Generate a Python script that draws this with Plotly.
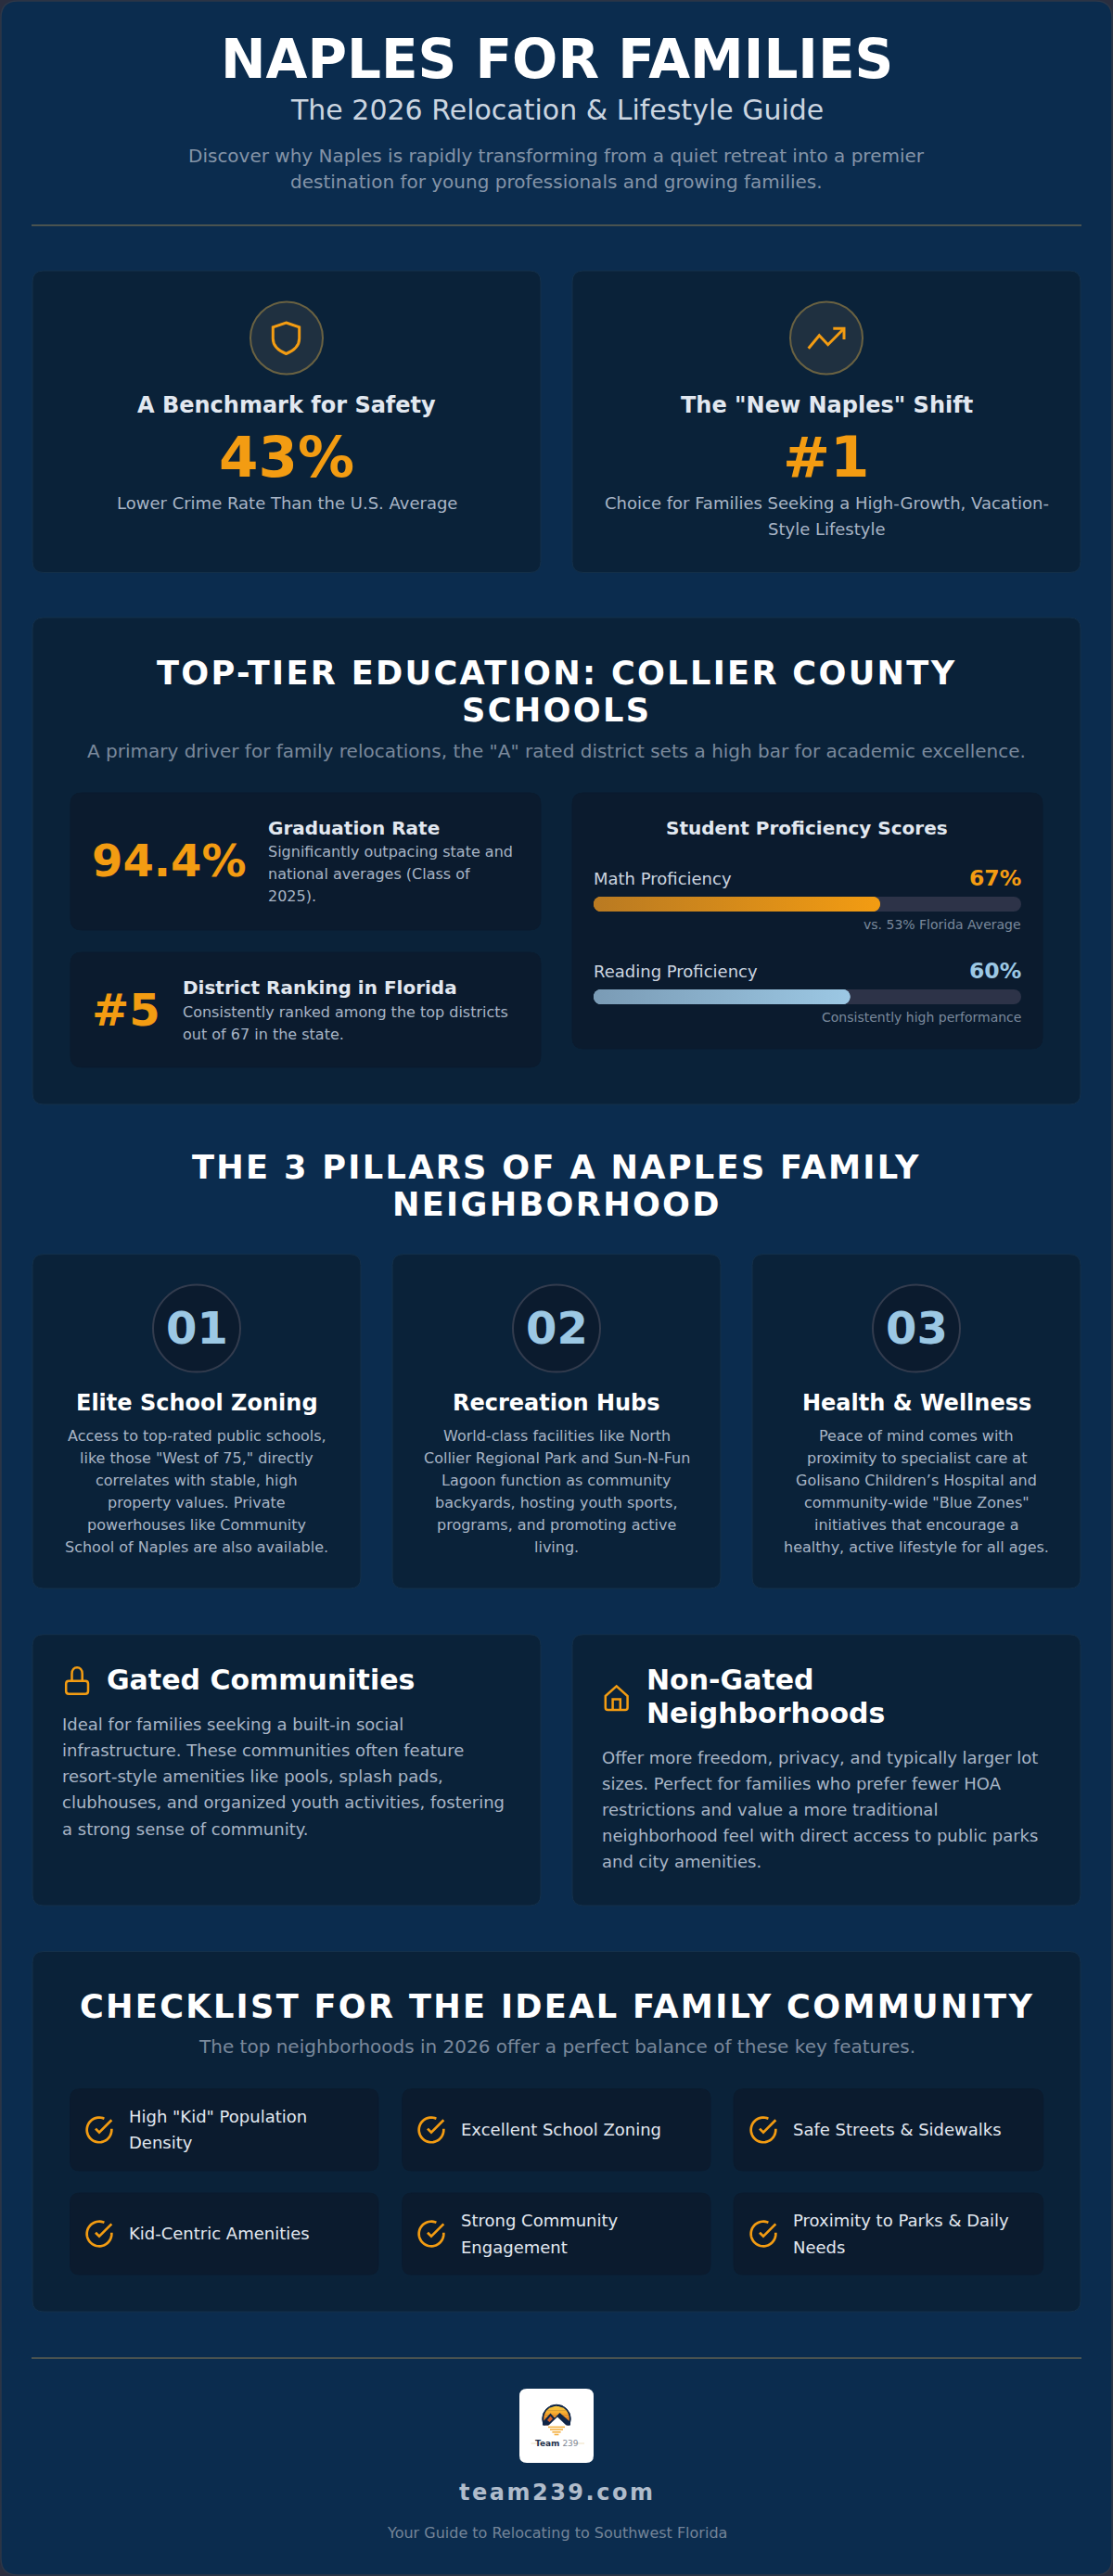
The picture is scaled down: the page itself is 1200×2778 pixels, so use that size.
import math
import plotly.graph_objects as go

# ---------- content ----------
title = "NAPLES FOR FAMILIES"
subtitle = "The 2026 Relocation & Lifestyle Guide"
intro_lines = ["Discover why Naples is rapidly transforming from a quiet retreat into a premier",
               "destination for young professionals and growing families."]
hero_titles = ["A Benchmark for Safety", 'The "New Naples" Shift']
hero_values = ["43%", "#1"]
hero_notes = [["Lower Crime Rate Than the U.S. Average"],
              ["Choice for Families Seeking a High-Growth, Vacation-", "Style Lifestyle"]]
edu_title = ["TOP-TIER EDUCATION: COLLIER COUNTY", "SCHOOLS"]
edu_sub = 'A primary driver for family relocations, the "A" rated district sets a high bar for academic excellence.'
edu_values = ["94.4%", "#5"]
edu_heads = ["Graduation Rate", "District Ranking in Florida"]
edu_notes = [["Significantly outpacing state and", "national averages (Class of", "2025)."],
             ["Consistently ranked among the top districts", "out of 67 in the state."]]
prof_title = "Student Proficiency Scores"
prof_labels = ["Math Proficiency", "Reading Proficiency"]
prof_values = [67, 60]
prof_notes = ["vs. 53% Florida Average", "Consistently high performance"]
pillars_title = ["THE 3 PILLARS OF A NAPLES FAMILY", "NEIGHBORHOOD"]
pillar_numbers = ["01", "02", "03"]
pillar_heads = ["Elite School Zoning", "Recreation Hubs", "Health & Wellness"]
pillar_notes = [
    ["Access to top-rated public schools,", 'like those "West of 75," directly', "correlates with stable, high",
     "property values. Private", "powerhouses like Community", "School of Naples are also available."],
    ["World-class facilities like North", "Collier Regional Park and Sun-N-Fun", "Lagoon function as community",
     "backyards, hosting youth sports,", "programs, and promoting active", "living."],
    ["Peace of mind comes with", "proximity to specialist care at", "Golisano Children’s Hospital and",
     'community-wide "Blue Zones"', "initiatives that encourage a", "healthy, active lifestyle for all ages."],
]
gated_head = ["Gated Communities"]
gated_note = ["Ideal for families seeking a built-in social", "infrastructure. These communities often feature",
              "resort-style amenities like pools, splash pads,", "clubhouses, and organized youth activities, fostering",
              "a strong sense of community."]
nongated_head = ["Non-Gated", "Neighborhoods"]
nongated_note = ["Offer more freedom, privacy, and typically larger lot", "sizes. Perfect for families who prefer fewer HOA",
                 "restrictions and value a more traditional", "neighborhood feel with direct access to public parks",
                 "and city amenities."]
check_title = "CHECKLIST FOR THE IDEAL FAMILY COMMUNITY"
check_sub = "The top neighborhoods in 2026 offer a perfect balance of these key features."
check_items = [['High "Kid" Population', "Density"], ["Excellent School Zoning"], ["Safe Streets & Sidewalks"],
               ["Kid-Centric Amenities"], ["Strong Community", "Engagement"], ["Proximity to Parks & Daily", "Needs"]]
site = "team239.com"
footer = "Your Guide to Relocating to Southwest Florida"

# ---------- palette ----------
PAGE = "#2a2e3f"
PANEL = "#0b2c4e"
CARD = "#0a2239"
INNER = "#0b1b2e"
EDGE = "#14304a"
ORANGE = "#f39c12"
BLUE = "#9cc8e4"
WHITE = "#ffffff"
T1 = "#e2e8f0"
T2 = "#cbd5e0"
T3 = "#a8b5c6"
T4 = "#7a899c"
FONT = "DejaVu Sans"

shapes = []
annotations = []


def rr(x0, y0, x1, y1, r):
    return (f"M{x0+r} {y0} L{x1-r} {y0} Q{x1} {y0} {x1} {y0+r} L{x1} {y1-r} Q{x1} {y1} {x1-r} {y1} "
            f"L{x0+r} {y1} Q{x0} {y1} {x0} {y1-r} L{x0} {y0+r} Q{x0} {y0} {x0+r} {y0} Z")


def box(x0, y0, x1, y1, r=12, fill=CARD, edge=EDGE, w=1):
    shapes.append(dict(type="path", path=rr(x0, y0, x1, y1, r), xref="x", yref="y", layer="below",
                       fillcolor=fill, line=dict(color=edge, width=w)))


def stroke(path, color=ORANGE, w=2.4):
    shapes.append(dict(type="path", path=path, xref="x", yref="y", layer="below",
                       fillcolor="rgba(0,0,0,0)", line=dict(color=color, width=w)))


def solid(path, color):
    shapes.append(dict(type="path", path=path, xref="x", yref="y", layer="below",
                       fillcolor=color, line=dict(width=0)))


def disc(cx, cy, r, fill, edge, w=2):
    shapes.append(dict(type="circle", x0=cx-r, x1=cx+r, y0=cy-r, y1=cy+r, xref="x", yref="y", layer="below",
                       fillcolor=fill, line=dict(color=edge, width=w)))


def rule(y):
    solid(f"M34 {y-1} L1166 {y-1} L1166 {y+1} L34 {y+1} Z", "#4a5350")


def txt(x, y, s, size, color, bold=False, anchor="center", spacing=0):
    if spacing:
        s = f'<span style="letter-spacing:{spacing}px">{s}</span>'
    annotations.append(dict(x=x, y=y, xref="x", yref="y", text=s, showarrow=False, xanchor=anchor, yanchor="middle",
                            borderpad=0, borderwidth=0,
                            font=dict(family=FONT, size=size, color=color, weight=700 if bold else 400)))


def lines(x, ys, rows, size, color, bold=False, anchor="center", spacing=0):
    for y, s in zip(ys, rows):
        txt(x, y, s, size, color, bold, anchor, spacing)


def stack(y0, step, n):
    return [y0 + step * i for i in range(n)]


# ---------- frame ----------
box(1, 1, 1199, 2777, r=18, fill=PANEL, edge="#2d3748", w=1.5)

# ---------- header ----------
txt(600, 63.5, title, 58, WHITE, True)
txt(600, 118, subtitle, 30, T2)
lines(600, [168, 196], intro_lines, 20, "#8494a8")
rule(243)

# ---------- hero cards ----------
hero_x = [309, 891]
hero_box = [(35, 583), (617, 1165)]
for i in range(2):
    box(hero_box[i][0], 292, hero_box[i][1], 617.5)
    disc(hero_x[i], 364.5, 39, "#1f3040", "#6a6242", 2)
    txt(hero_x[i], 437, hero_titles[i], 24, T1, True)
    txt(hero_x[i], 492, hero_values[i], 61, ORANGE, True)
    lines(hero_x[i], stack(542, 28, len(hero_notes[i])), hero_notes[i], 18, T3)
stroke("M308.5 348 L322.7 352.8 L322.7 365 C322.7 373 316 378.5 308.5 381.5 C301 378.5 294.3 373 294.3 365 "
       "L294.3 352.8 Z", ORANGE, 3)
stroke("M871.7 375.7 L883.3 361.7 L892.7 371.7 L910 354.3", ORANGE, 3)
stroke("M898.3 354.3 L910 354.3 L910 366", ORANGE, 3)

# ---------- education ----------
box(35, 666, 1165, 1191)
lines(600, [725, 765], edu_title, 35.2, WHITE, True, spacing=2.3)
txt(600, 810, edu_sub, 20, "#7a899c")
box(76, 855, 583, 1003, fill=INNER, edge=INNER)
box(76, 1027, 583, 1151, fill=INNER, edge=INNER)
box(617, 855, 1124, 1131, fill=INNER, edge=INNER)
txt(98.5, 928, edu_values[0], 48, ORANGE, True, "left")
txt(289, 893, edu_heads[0], 20, T1, True, "left")
lines(289, stack(918.6, 24, 3), edu_notes[0], 16, T3, anchor="left")
txt(99, 1089, edu_values[1], 48, ORANGE, True, "left")
txt(196.6, 1065, edu_heads[1], 20, T1, True, "left")
lines(196.6, stack(1091, 24, 2), edu_notes[1], 16, T3, anchor="left")
txt(870, 893, prof_title, 20, T1, True)
prof_y = [947, 1047]
prof_col = [ORANGE, BLUE]
for i in range(2):
    txt(640, prof_y[i], prof_labels[i], 18, T2, False, "left")
    txt(1101, prof_y[i], f"{prof_values[i]}%", 23.5, prof_col[i], True, "right")
    txt(1101, prof_y[i] + 49.5, prof_notes[i], 14, T4, False, "right")

# ---------- pillars ----------
lines(600, [1258, 1298.5], pillars_title, 35.2, WHITE, True, spacing=2.3)
pillar_x = [212, 600, 988]
pillar_box = [(35, 389), (423, 777), (811, 1165)]
for i in range(3):
    box(pillar_box[i][0], 1352.6, pillar_box[i][1], 1713)
    disc(pillar_x[i], 1432.6, 47, INNER, "#333c4e", 2)
    txt(pillar_x[i], 1432, pillar_numbers[i], 48, BLUE, True)
    txt(pillar_x[i], 1513, pillar_heads[i], 24, WHITE, True)
    lines(pillar_x[i], stack(1548.4, 24.05, 6), pillar_notes[i], 16, T3)

# ---------- gated / non-gated ----------
box(35, 1762.7, 583, 2055)
box(617, 1762.7, 1165, 2055)
txt(115, 1811, gated_head[0], 30, WHITE, True, "left")
lines(67, stack(1859.6, 28.1, 5), gated_note, 18, T3, anchor="left")
lines(697, [1811, 1847.5], nongated_head, 30, WHITE, True, "left")
lines(648.8, stack(1895.5, 28.1, 5), nongated_note, 18, T3, anchor="left")
stroke(rr(71.2, 1812.7, 95, 1826.7, 3), ORANGE, 2.5)
stroke("M77.5 1812.7 L77.5 1805 C77.5 1796 88.7 1796 88.7 1805 L88.7 1812.7", ORANGE, 2.5)
stroke("M652.8 1829 L664.7 1818.4 L676.6 1829 L676.6 1841.5 Q676.6 1844 674.1 1844 L655.3 1844 Q652.8 1844 652.8 1841.5 Z",
       ORANGE, 2.5)
stroke("M660.6 1844 L660.6 1832.6 L668.8 1832.6 L668.8 1844", ORANGE, 2.5)

# ---------- checklist ----------
box(35, 2104.5, 1165, 2493)
txt(600, 2163, check_title, 35.2, WHITE, True, spacing=2.3)
txt(600, 2207.3, check_sub, 20, "#7a899c")
col_box = [(75.7, 408), (433.8, 766), (791, 1124.7)]
row_box = [(2252.8, 2341), (2365, 2453)]
icon_x = [107, 465, 823]
text_x = [139, 497, 855]


def check_icon(cx, cy):
    s = 4 / 3
    ox, oy = cx - 16, cy - 16
    pts = [(22, 11.08)]
    a0 = 0
    a1 = 360 - math.degrees(math.atan2(12 - 2.86, 16.07 - 12))
    for k in range(41):
        a = math.radians(a0 + (a1 - a0) * k / 40)
        pts.append((12 + 10 * math.cos(a), 12 + 10 * math.sin(a)))
    d = "M" + " L".join(f"{ox+s*a:.2f} {oy+s*b:.2f}" for a, b in pts)
    stroke(d, ORANGE, 2.7)
    tick = [(22, 4), (12, 14.01), (9, 11.01)]
    stroke("M" + " L".join(f"{ox+s*a:.2f} {oy+s*b:.2f}" for a, b in tick), ORANGE, 2.7)


for r in range(2):
    for c in range(3):
        box(col_box[c][0], row_box[r][0], col_box[c][1], row_box[r][1], r=10, fill=INNER, edge=INNER)
        cy = (row_box[r][0] + row_box[r][1]) / 2
        check_icon(icon_x[c], cy)
        rows = check_items[r * 3 + c]
        ys = [cy - r] if len(rows) == 1 else [cy - 14.2, cy + 14]
        lines(text_x[c], ys, rows, 18, T1, anchor="left")

# ---------- footer ----------
rule(2543)
box(560, 2576, 640, 2656, r=8, fill=WHITE, edge=WHITE, w=0)
# logo: ring, graded sky, peaks, house and water stripes
lcx, lcy, lr = 600, 2608.5, 14.4
disc(lcx, lcy, 15.3, "#0f2547", "#0f2547", 1)
sky = ["#f8c63c", "#f8bd38", "#f7b133", "#f5a52f", "#f3982b", "#f08b28", "#ec7e26", "#e87224", "#e46622"]
for k, col in enumerate(sky):
    ya = lcy - lr + k * 2.6
    yb = ya + 2.8
    wa = math.sqrt(max(lr**2 - (ya - lcy)**2, 0)) - 0.6
    wb = math.sqrt(max(lr**2 - (yb - lcy)**2, 0)) - 0.6
    solid(f"M{lcx-wa:.2f} {ya:.2f} L{lcx+wa:.2f} {ya:.2f} L{lcx+wb:.2f} {yb:.2f} L{lcx-wb:.2f} {yb:.2f} Z", col)
solid("M583 2615.5 L617 2615.5 L617 2630 L583 2630 Z", WHITE)
solid("M585 2612 L593.5 2602.5 L598 2607.5 L603.5 2602 L615 2612 L615 2615.5 L585 2615.5 Z", "#0f2547")
solid("M591 2616 L601 2606.5 L611 2616 Z", WHITE)
solid("M590 2610 L593.5 2605.5 L596 2608.5 L592.5 2612 Z", "#d9622b")
for k, hw in enumerate([9, 7, 4.6, 2.4]):
    y = 2616.6 + k * 2.7
    solid(f"M{600-hw} {y} L{600+hw} {y} L{600+hw} {y+1.6} L{600-hw} {y+1.6} Z", "#f4b040")
solid("M572.5 2634.6 L581.5 2634.6 L581.5 2635.4 L572.5 2635.4 Z", "#e9d6ae")
solid("M619 2634.6 L630 2634.6 L630 2635.4 L619 2635.4 Z", "#e9d6ae")
txt(600, 2635, '<b>Team</b> <span style="color:#7d8796">239</span>', 9, "#1e2f4a")
txt(600, 2687.7, site, 24, "#b0bccb", True, spacing=2.5)
txt(600, 2731, footer, 16, "#748498")

# ---------- figure ----------
fig = go.Figure()

# the proficiency bars, on their own 0-100 axes
bar_rows = [0, 1]
fig.add_trace(go.Bar(x=[100, 100], y=bar_rows, base=[0, 0], orientation="h", width=0.16, xaxis="x2", yaxis="y2",
                     marker=dict(color="#2d3348", cornerradius=8, line=dict(width=0)), hoverinfo="skip", showlegend=False))
fig.add_trace(go.Bar(x=prof_values, y=bar_rows, base=[0, 0], orientation="h", width=0.16, xaxis="x2", yaxis="y2",
                     marker=dict(color=prof_col, cornerradius=8, line=dict(width=0)), hoverinfo="skip", showlegend=False))


def sheen(value, row, c0, c1):
    # gradient skin in the exact outline of the bar above
    rx, ry = 8 / 461 * 100, 0.08
    xs, ys = [], []
    for k in range(13):
        a = math.radians(-90 + 15 * k)
        xs.append(value - rx + rx * math.cos(a))
        ys.append(row + ry * math.sin(a))
    for k in range(13):
        a = math.radians(90 + 15 * k)
        xs.append(rx + rx * math.cos(a))
        ys.append(row + ry * math.sin(a))
    xs.append(xs[0])
    ys.append(ys[0])
    fig.add_trace(go.Scatter(x=xs, y=ys, xaxis="x2", yaxis="y2", mode="lines", line=dict(width=0, simplify=False),
                             fill="toself", fillgradient=dict(type="horizontal", colorscale=[[0, c0], [1, c1]]),
                             hoverinfo="skip", showlegend=False))


sheen(prof_values[0], bar_rows[0], "#b97a22", ORANGE)
sheen(prof_values[1], bar_rows[1], "#7a9bb5", BLUE)

H = 2778
fig.update_layout(
    width=1200, height=H, margin=dict(l=0, r=0, t=0, b=0, pad=0), autosize=False,
    paper_bgcolor=PAGE, plot_bgcolor="rgba(0,0,0,0)", showlegend=False, barmode="overlay",
    xaxis=dict(range=[0, 1200], domain=[0, 1], visible=False, fixedrange=True),
    yaxis=dict(range=[H, 0], domain=[0, 1], visible=False, fixedrange=True),
    xaxis2=dict(range=[0, 100], domain=[640 / 1200, 1101 / 1200], visible=False, fixedrange=True, anchor="y2"),
    yaxis2=dict(range=[1.5, -0.5], domain=[1 - 1125 / H, 1 - 925 / H], visible=False, fixedrange=True, anchor="x2"),
    shapes=shapes, annotations=annotations,
)

fig.write_html("out.html", config=dict(displayModeBar=False),
               post_script="document.body.style.margin='0';document.body.style.overflow='hidden';")
